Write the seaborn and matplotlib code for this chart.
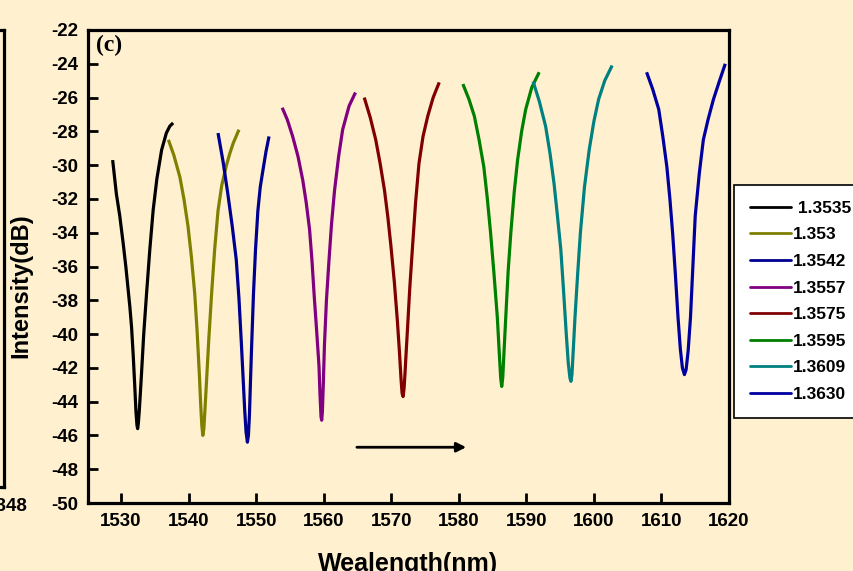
import numpy as np
import pandas as pd
import matplotlib
matplotlib.use("Agg")
import matplotlib.pyplot as plt
from matplotlib.lines import Line2D
import seaborn as sns

BG = '#FFF1CF'

labels = ['1.3535', '1.353', '1.3542', '1.3557', '1.3575', '1.3595', '1.3609', '1.3630']
colors = ['#000000', '#808000', '#000090', '#800080', '#800000', '#008000', '#008080', '#0000A0']

# wavelength (nm) / intensity (dB), one dip per index
wl_1 = [1528.75, 1529.3, 1529.8, 1530.3, 1530.7, 1531.0, 1531.3, 1531.55, 1531.8, 1532.05, 1532.2, 1532.35,
        1532.45, 1532.55, 1532.7, 1532.85, 1533.0, 1533.35, 1533.77, 1534.25, 1534.75, 1535.3, 1536.0, 1536.7,
        1537.2, 1537.7]
db_1 = [-29.7, -31.7, -33.0, -34.6, -36.0, -37.2, -38.4, -39.6, -41.3, -43.3, -44.6, -45.4,
        -45.6, -45.3, -44.5, -43.5, -42.5, -40.0, -37.6, -35.0, -32.65, -30.8, -29.1, -28.1,
        -27.7, -27.5]
wl_2 = [1537.0, 1537.8, 1538.7, 1539.3, 1539.9, 1540.4, 1540.9, 1541.25, 1541.6, 1541.8, 1541.95, 1542.1,
        1542.25, 1542.4, 1542.55, 1542.7, 1543.0, 1543.4, 1543.85, 1544.35, 1544.9, 1545.6, 1546.1, 1546.6,
        1547.45]
db_2 = [-28.5, -29.4, -30.7, -32.0, -33.6, -35.4, -37.6, -39.8, -42.5, -44.3, -45.4, -46.0,
        -45.6, -44.6, -43.5, -42.4, -40.2, -37.6, -35.0, -32.7, -31.2, -30.0, -29.3, -28.7,
        -27.9]
wl_3 = [1544.35, 1545.1, 1545.8, 1546.45, 1547.05, 1547.45, 1547.8, 1548.05, 1548.3, 1548.5, 1548.7, 1548.85,
        1549.0, 1549.1, 1549.3, 1549.6, 1549.9, 1550.25, 1550.6, 1551.0, 1551.45, 1551.9]
db_3 = [-28.1, -29.8, -31.7, -33.6, -35.6, -37.9, -40.5, -42.5, -44.5, -45.8, -46.4, -46.0,
        -44.8, -43.5, -41.0, -37.6, -35.0, -32.7, -31.3, -30.3, -29.2, -28.3]
wl_4 = [1553.85, 1554.6, 1555.4, 1556.2, 1556.9, 1557.4, 1557.9, 1558.25, 1558.6, 1558.95, 1559.3, 1559.45,
        1559.6, 1559.7, 1559.8, 1559.95, 1560.1, 1560.4, 1560.75, 1561.15, 1561.6, 1562.2, 1562.8, 1563.75,
        1564.7]
db_4 = [-26.6, -27.3, -28.3, -29.5, -30.9, -32.2, -33.8, -35.6, -37.8, -39.8, -41.9, -43.6,
        -44.9, -45.1, -44.6, -42.8, -40.7, -38.0, -35.8, -33.5, -31.5, -29.5, -27.9, -26.5,
        -25.7]
wl_5 = [1566.0, 1566.9, 1567.7, 1568.35, 1569.0, 1569.5, 1569.95, 1570.45, 1570.9, 1571.2, 1571.45, 1571.6,
        1571.75, 1571.9, 1572.05, 1572.2, 1572.4, 1572.75, 1573.15, 1573.6, 1574.1, 1574.7, 1575.4, 1576.2,
        1577.1]
db_5 = [-26.0, -27.2, -28.5, -29.9, -31.5, -33.1, -34.8, -36.9, -39.2, -41.0, -42.7, -43.5,
        -43.7, -43.2, -42.2, -41.1, -39.7, -37.2, -34.8, -32.2, -29.9, -28.3, -27.1, -26.0,
        -25.1]
wl_6 = [1580.6, 1581.5, 1582.3, 1583.0, 1583.7, 1584.2, 1584.7, 1585.2, 1585.7, 1586.0, 1586.2, 1586.35,
        1586.5, 1586.7, 1586.95, 1587.3, 1587.7, 1588.2, 1588.7, 1589.3, 1589.9, 1590.8, 1591.9]
db_6 = [-25.2, -26.1, -27.1, -28.5, -30.1, -31.9, -34.0, -36.4, -39.0, -41.2, -42.6, -43.1,
        -42.6, -41.0, -39.0, -36.3, -34.0, -31.6, -29.7, -28.0, -26.7, -25.4, -24.5]
wl_7 = [1591.0, 1591.9, 1592.85, 1593.5, 1594.1, 1594.6, 1595.1, 1595.5, 1595.9, 1596.2, 1596.45, 1596.6,
        1596.75, 1596.95, 1597.2, 1597.6, 1598.0, 1598.6, 1599.3, 1600.0, 1600.7, 1601.6, 1602.7]
db_7 = [-25.05, -26.2, -27.7, -29.3, -31.1, -33.0, -35.0, -37.4, -39.95, -41.7, -42.6, -42.8,
        -42.4, -40.9, -39.0, -36.4, -34.0, -31.3, -29.1, -27.4, -26.1, -25.0, -24.1]
wl_8 = [1607.8, 1608.7, 1609.6, 1610.2, 1610.8, 1611.25, 1611.65, 1612.05, 1612.45, 1612.8, 1613.1, 1613.4,
        1613.65, 1613.95, 1614.3, 1614.65, 1615.0, 1615.6, 1616.2, 1616.9, 1617.7, 1618.6, 1619.45]
db_8 = [-24.5, -25.5, -26.7, -28.3, -30.1, -32.0, -34.0, -36.4, -39.0, -40.9, -42.0, -42.4,
        -42.1, -41.0, -39.0, -36.0, -33.0, -30.5, -28.5, -27.3, -26.1, -25.0, -24.0]

wls = [wl_1, wl_2, wl_3, wl_4, wl_5, wl_6, wl_7, wl_8]
dbs = [db_1, db_2, db_3, db_4, db_5, db_6, db_7, db_8]

rows = []
for lab, w, d in zip(labels, wls, dbs):
    for a, b in zip(w, d):
        rows.append((lab, a, b))
df = pd.DataFrame(rows, columns=['n', 'wavelength', 'intensity'])

sns.set_theme(style='ticks')
plt.rcParams['font.family'] = ['Liberation Sans', 'DejaVu Sans']
plt.rcParams['font.weight'] = 'bold'
plt.rcParams['axes.unicode_minus'] = False
plt.rcParams['text.color'] = 'black'
plt.rcParams['axes.labelcolor'] = 'black'
plt.rcParams['xtick.color'] = 'black'
plt.rcParams['ytick.color'] = 'black'

fig = plt.figure(figsize=(8.54, 5.71), dpi=100, facecolor=BG)
ax = fig.add_axes([88/854, 1-503/571, (729-88)/854, (503-30)/571])
ax.set_facecolor(BG)

sns.lineplot(data=df, x='wavelength', y='intensity', hue='n', hue_order=labels,
             palette=colors, estimator=None, sort=False, lw=2.3, legend=False, ax=ax,
             solid_joinstyle='round', solid_capstyle='butt')

ax.set_xlim(1525.1, 1619.9)
ax.set_ylim(-50, -22)
ax.set_xticks(np.arange(1530, 1621, 10))
ax.set_yticks(np.arange(-50, -21, 2))
ax.tick_params(direction='in', length=7, width=2, labelsize=13.5, pad=7)
for lbl in ax.get_xticklabels() + ax.get_yticklabels():
    lbl.set_fontweight('bold')
for s in ax.spines.values():
    s.set_visible(True)
    s.set_linewidth(2.3)
    s.set_color('black')

ax.set_xlabel('Wealength(nm)', fontsize=18, fontweight='bold')
ax.set_ylabel('Intensity(dB)', fontsize=17, fontweight='bold')
ax.xaxis.set_label_coords(0.5, -0.103)
ax.yaxis.set_label_coords(-0.087, 0.46)

ax.text(0.012, 0.99, '(c)', transform=ax.transAxes, ha='left', va='top',
        fontsize=17, fontweight='bold', family=['Liberation Serif', 'DejaVu Serif'])

ax.annotate('', xy=(1581.5, -46.7), xytext=(1564.5, -46.7),
            arrowprops=dict(arrowstyle='-|>', color='black', lw=2, mutation_scale=14))

handles = [Line2D([], [], color=c, lw=2) for c in colors]
leg_labels = [' ' + labels[0]] + labels[1:]
leg = fig.legend(handles, leg_labels, loc='upper left', bbox_to_anchor=(734/854, 1-185/571),
                 frameon=True, fancybox=False, edgecolor='black', facecolor='white', framealpha=1,
                 prop={'weight': 'bold', 'size': 12.5}, handlelength=2.4, handletextpad=0.1,
                 labelspacing=0.66, borderpad=0.9, borderaxespad=0)
leg.get_frame().set_linewidth(1.2)

# right edge of the neighbouring panel, mostly off the figure
ax0 = fig.add_axes([-0.3, 1-487/571, 0.3+4/854, (487-30)/571])
ax0.set_facecolor(BG)
ax0.set_xlim(0, 1)
ax0.set_xticks([1])
ax0.set_xticklabels(['1.348'], fontsize=13.5, fontweight='bold')
ax0.set_yticks([])
ax0.tick_params(length=0, pad=8)
for s in ax0.spines.values():
    s.set_linewidth(2.3)
    s.set_color('black')

fig.savefig('out.png', dpi=100, facecolor=BG)
